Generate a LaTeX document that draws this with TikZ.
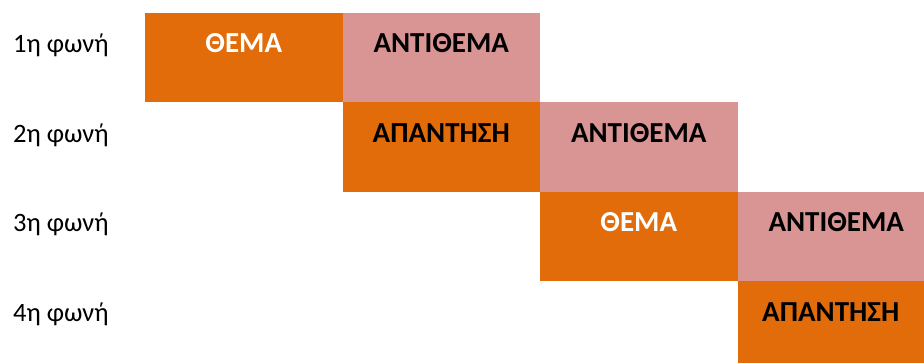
\documentclass[tikz,border=0pt]{standalone}
\usepackage{fontspec}
\setmainfont{Carlito}
\definecolor{orng}{HTML}{E36C0A}
\definecolor{pnk}{HTML}{D99594}
\begin{document}
\begin{tikzpicture}[x=1pt,y=-1pt,
  cell/.style={draw=none,inner sep=0pt,outer sep=0pt,minimum width=197.5pt,minimum height=89.5pt,anchor=north west},
  theme/.style={cell,fill=orng},
  counter/.style={cell,fill=pnk},
  btxt/.style={inner sep=0pt,anchor=base,font=\fontsize{29}{34}\selectfont\bfseries},
  wtxt/.style={btxt,text=white},
  vlabel/.style={inner sep=0pt,anchor=base west,font=\fontsize{26.5}{32}\selectfont}]
\useasboundingbox (0,0) rectangle (924,363);
% row 1
\node[theme]   (a1) at (145,13) {};
\node[counter] (a2) at (342.5,13) {};
% row 2
\node[theme]   (b2) at (342.5,102.5) {};
\node[counter] (b3) at (540,102.5) {};
% row 3
\node[theme]   (c3) at (540,192) {};
\node[counter] (c4) at (737.5,192) {};
% row 4
\node[theme,minimum width=186.5pt] (d4) at (737.5,281.5) {};
% texts
\node[wtxt] (ta1) at ([yshift=-40pt]a1.north) {ΘΕΜΑ};
\node[btxt] (ta2) at ([yshift=-40pt]a2.north) {ΑΝΤΙΘΕΜΑ};
\node[btxt] (tb2) at ([yshift=-40pt]b2.north) {ΑΠΑΝΤΗΣΗ};
\node[btxt] (tb3) at ([yshift=-40pt]b3.north) {ΑΝΤΙΘΕΜΑ};
\node[wtxt] (tc3) at ([yshift=-40pt]c3.north) {ΘΕΜΑ};
\node[btxt] (tc4) at ([yshift=-40pt]c4.north) {ΑΝΤΙΘΕΜΑ};
\node[btxt] (td4) at ([yshift=-40pt]d4.north) {ΑΠΑΝΤΗΣΗ};
% voice labels
\node[vlabel] (v1) at (13,53) {1η φωνή};
\node[vlabel] (v2) at (13,142.5) {2η φωνή};
\node[vlabel] (v3) at (13,232) {3η φωνή};
\node[vlabel] (v4) at (13,321.5) {4η φωνή};
\end{tikzpicture}
\end{document}
